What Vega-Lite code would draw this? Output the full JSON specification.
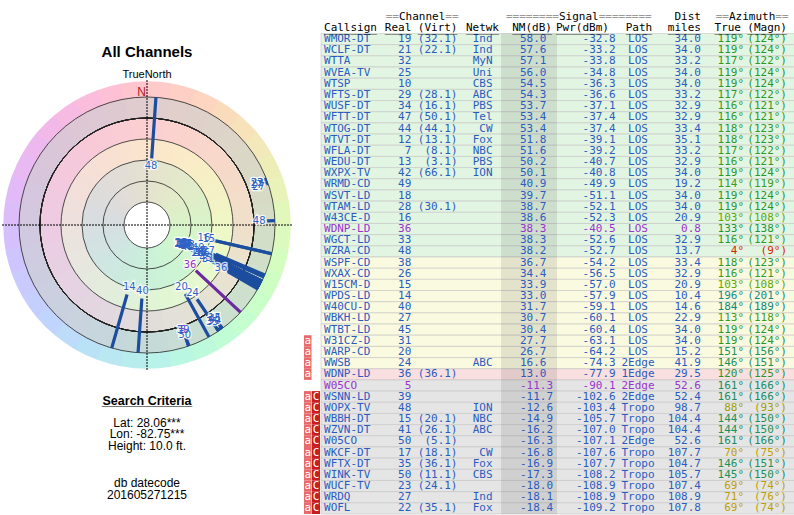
{
"$schema": "https://vega.github.io/schema/vega-lite/v6.json",
"padding": 0,
"background": "white",
"spacing": 10,
"config": {"view": {"stroke": null}, "locale": {"number": {"decimal": ".", "thousands": ",", "grouping": [3], "currency": ["$", ""], "minus": "-"}}},
"datasets": {
"stations": [
{"r":1,"call":"WMOR-DT","real":19,"virt":"(32.1)","net":"Ind","nm":58.0,"pwr":-32.8,"path":"LOS","dist":34.0,"az":119,"mag":124,"flag":"","grp":"std"},
{"r":2,"call":"WCLF-DT","real":21,"virt":"(22.1)","net":"Ind","nm":57.6,"pwr":-33.2,"path":"LOS","dist":34.0,"az":119,"mag":124,"flag":"","grp":"std"},
{"r":3,"call":"WTTA","real":32,"virt":"","net":"MyN","nm":57.1,"pwr":-33.8,"path":"LOS","dist":33.2,"az":117,"mag":122,"flag":"","grp":"std"},
{"r":4,"call":"WVEA-TV","real":25,"virt":"","net":"Uni","nm":56.0,"pwr":-34.8,"path":"LOS","dist":34.0,"az":119,"mag":124,"flag":"","grp":"std"},
{"r":5,"call":"WTSP","real":10,"virt":"","net":"CBS","nm":54.5,"pwr":-36.3,"path":"LOS","dist":34.0,"az":119,"mag":124,"flag":"","grp":"std"},
{"r":6,"call":"WFTS-DT","real":29,"virt":"(28.1)","net":"ABC","nm":54.3,"pwr":-36.6,"path":"LOS","dist":33.2,"az":117,"mag":122,"flag":"","grp":"std"},
{"r":7,"call":"WUSF-DT","real":34,"virt":"(16.1)","net":"PBS","nm":53.7,"pwr":-37.1,"path":"LOS","dist":32.9,"az":116,"mag":121,"flag":"","grp":"std"},
{"r":8,"call":"WFTT-DT","real":47,"virt":"(50.1)","net":"Tel","nm":53.4,"pwr":-37.4,"path":"LOS","dist":32.9,"az":116,"mag":121,"flag":"","grp":"std"},
{"r":9,"call":"WTOG-DT","real":44,"virt":"(44.1)","net":"CW","nm":53.4,"pwr":-37.4,"path":"LOS","dist":33.4,"az":118,"mag":123,"flag":"","grp":"std"},
{"r":10,"call":"WTVT-DT","real":12,"virt":"(13.1)","net":"Fox","nm":51.8,"pwr":-39.1,"path":"LOS","dist":35.1,"az":118,"mag":123,"flag":"","grp":"std"},
{"r":11,"call":"WFLA-DT","real":7,"virt":"(8.1)","net":"NBC","nm":51.6,"pwr":-39.2,"path":"LOS","dist":33.2,"az":117,"mag":122,"flag":"","grp":"std"},
{"r":12,"call":"WEDU-DT","real":13,"virt":"(3.1)","net":"PBS","nm":50.2,"pwr":-40.7,"path":"LOS","dist":32.9,"az":116,"mag":121,"flag":"","grp":"std"},
{"r":13,"call":"WXPX-TV","real":42,"virt":"(66.1)","net":"ION","nm":50.1,"pwr":-40.8,"path":"LOS","dist":34.0,"az":119,"mag":124,"flag":"","grp":"std"},
{"r":14,"call":"WRMD-CD","real":49,"virt":"","net":"","nm":40.9,"pwr":-49.9,"path":"LOS","dist":19.2,"az":114,"mag":119,"flag":"","grp":"std"},
{"r":15,"call":"WSVT-LD","real":18,"virt":"","net":"","nm":39.7,"pwr":-51.1,"path":"LOS","dist":34.0,"az":119,"mag":124,"flag":"","grp":"std"},
{"r":16,"call":"WTAM-LD","real":28,"virt":"(30.1)","net":"","nm":38.7,"pwr":-52.1,"path":"LOS","dist":34.0,"az":119,"mag":124,"flag":"","grp":"std"},
{"r":17,"call":"W43CE-D","real":16,"virt":"","net":"","nm":38.6,"pwr":-52.3,"path":"LOS","dist":20.9,"az":103,"mag":108,"flag":"","grp":"std"},
{"r":18,"call":"WDNP-LD","real":36,"virt":"","net":"","nm":38.3,"pwr":-40.5,"path":"LOS","dist":0.8,"az":133,"mag":138,"flag":"","grp":"alt"},
{"r":19,"call":"WGCT-LD","real":33,"virt":"","net":"","nm":38.3,"pwr":-52.6,"path":"LOS","dist":32.9,"az":116,"mag":121,"flag":"","grp":"std"},
{"r":20,"call":"WZRA-CD","real":48,"virt":"","net":"","nm":38.2,"pwr":-52.7,"path":"LOS","dist":13.7,"az":4,"mag":9,"flag":"","grp":"std"},
{"r":21,"call":"WSPF-CD","real":38,"virt":"","net":"","nm":36.7,"pwr":-54.2,"path":"LOS","dist":33.4,"az":118,"mag":123,"flag":"","grp":"std"},
{"r":22,"call":"WXAX-CD","real":26,"virt":"","net":"","nm":34.4,"pwr":-56.5,"path":"LOS","dist":32.9,"az":116,"mag":121,"flag":"","grp":"std"},
{"r":23,"call":"W15CM-D","real":15,"virt":"","net":"","nm":33.9,"pwr":-57.0,"path":"LOS","dist":20.9,"az":103,"mag":108,"flag":"","grp":"std"},
{"r":24,"call":"WPDS-LD","real":14,"virt":"","net":"","nm":33.0,"pwr":-57.9,"path":"LOS","dist":10.4,"az":196,"mag":201,"flag":"","grp":"std"},
{"r":25,"call":"W40CU-D","real":40,"virt":"","net":"","nm":31.7,"pwr":-59.1,"path":"LOS","dist":14.6,"az":184,"mag":189,"flag":"","grp":"std"},
{"r":26,"call":"WBKH-LD","real":27,"virt":"","net":"","nm":30.7,"pwr":-60.1,"path":"LOS","dist":22.9,"az":113,"mag":118,"flag":"","grp":"std"},
{"r":27,"call":"WTBT-LD","real":45,"virt":"","net":"","nm":30.4,"pwr":-60.4,"path":"LOS","dist":34.0,"az":119,"mag":124,"flag":"","grp":"std"},
{"r":28,"call":"W31CZ-D","real":31,"virt":"","net":"","nm":27.7,"pwr":-63.1,"path":"LOS","dist":34.0,"az":119,"mag":124,"flag":"a","grp":"std"},
{"r":29,"call":"WARP-CD","real":20,"virt":"","net":"","nm":26.7,"pwr":-64.2,"path":"LOS","dist":15.2,"az":151,"mag":156,"flag":"a","grp":"std"},
{"r":30,"call":"WWSB","real":24,"virt":"","net":"ABC","nm":16.6,"pwr":-74.3,"path":"2Edge","dist":41.9,"az":146,"mag":151,"flag":"a","grp":"std"},
{"r":31,"call":"WDNP-LD","real":36,"virt":"(36.1)","net":"","nm":13.0,"pwr":-77.9,"path":"1Edge","dist":29.5,"az":120,"mag":125,"flag":"a","grp":"std"},
{"r":32,"call":"W05CO","real":5,"virt":"","net":"","nm":-11.3,"pwr":-90.1,"path":"2Edge","dist":52.6,"az":161,"mag":166,"flag":"","grp":"alt"},
{"r":33,"call":"WSNN-LD","real":39,"virt":"","net":"","nm":-11.7,"pwr":-102.6,"path":"2Edge","dist":52.4,"az":161,"mag":166,"flag":"aC","grp":"std"},
{"r":34,"call":"WOPX-TV","real":48,"virt":"","net":"ION","nm":-12.6,"pwr":-103.4,"path":"Tropo","dist":98.7,"az":88,"mag":93,"flag":"aC","grp":"std"},
{"r":35,"call":"WBBH-DT","real":15,"virt":"(20.1)","net":"NBC","nm":-14.9,"pwr":-105.7,"path":"Tropo","dist":104.4,"az":144,"mag":150,"flag":"aC","grp":"std"},
{"r":36,"call":"WZVN-DT","real":41,"virt":"(26.1)","net":"ABC","nm":-16.2,"pwr":-107.0,"path":"Tropo","dist":104.4,"az":144,"mag":150,"flag":"aC","grp":"std"},
{"r":37,"call":"W05CO","real":50,"virt":"(5.1)","net":"","nm":-16.3,"pwr":-107.1,"path":"2Edge","dist":52.6,"az":161,"mag":166,"flag":"aC","grp":"std"},
{"r":38,"call":"WKCF-DT","real":17,"virt":"(18.1)","net":"CW","nm":-16.8,"pwr":-107.6,"path":"Tropo","dist":107.7,"az":70,"mag":75,"flag":"aC","grp":"std"},
{"r":39,"call":"WFTX-DT","real":35,"virt":"(36.1)","net":"Fox","nm":-16.9,"pwr":-107.7,"path":"Tropo","dist":104.7,"az":146,"mag":151,"flag":"aC","grp":"std"},
{"r":40,"call":"WINK-TV","real":50,"virt":"(11.1)","net":"CBS","nm":-17.3,"pwr":-108.2,"path":"Tropo","dist":105.7,"az":145,"mag":150,"flag":"aC","grp":"std"},
{"r":41,"call":"WUCF-TV","real":23,"virt":"(24.1)","net":"","nm":-18.0,"pwr":-108.9,"path":"Tropo","dist":107.4,"az":69,"mag":74,"flag":"aC","grp":"std"},
{"r":42,"call":"WRDQ","real":27,"virt":"","net":"Ind","nm":-18.1,"pwr":-108.9,"path":"Tropo","dist":108.9,"az":71,"mag":76,"flag":"aC","grp":"std"},
{"r":43,"call":"WOFL","real":22,"virt":"(35.1)","net":"Fox","nm":-18.4,"pwr":-109.2,"path":"Tropo","dist":107.8,"az":69,"mag":74,"flag":"aC","grp":"std"}
],
"bands": [{"lo":-20,"hi":0,"q":"poor"},{"lo":0,"hi":20,"q":"weak"},{"lo":20,"hi":40,"q":"fair"},{"lo":40,"hi":80,"q":"good"}],
"grid": [{"g":-20},{"g":0},{"g":20},{"g":40},{"g":60},{"g":80}],
"cross": [{"d":0},{"d":90},{"d":180},{"d":270}],
"hues": [
{"a":0,"a2":10,"lo":-20,"hi":80,"ring":"inner"},{"a":10,"a2":20,"lo":-20,"hi":80,"ring":"inner"},{"a":20,"a2":30,"lo":-20,"hi":80,"ring":"inner"},{"a":30,"a2":40,"lo":-20,"hi":80,"ring":"inner"},{"a":40,"a2":50,"lo":-20,"hi":80,"ring":"inner"},{"a":50,"a2":60,"lo":-20,"hi":80,"ring":"inner"},{"a":60,"a2":70,"lo":-20,"hi":80,"ring":"inner"},{"a":70,"a2":80,"lo":-20,"hi":80,"ring":"inner"},{"a":80,"a2":90,"lo":-20,"hi":80,"ring":"inner"},{"a":90,"a2":100,"lo":-20,"hi":80,"ring":"inner"},{"a":100,"a2":110,"lo":-20,"hi":80,"ring":"inner"},{"a":110,"a2":120,"lo":-20,"hi":80,"ring":"inner"},{"a":120,"a2":130,"lo":-20,"hi":80,"ring":"inner"},{"a":130,"a2":140,"lo":-20,"hi":80,"ring":"inner"},{"a":140,"a2":150,"lo":-20,"hi":80,"ring":"inner"},{"a":150,"a2":160,"lo":-20,"hi":80,"ring":"inner"},{"a":160,"a2":170,"lo":-20,"hi":80,"ring":"inner"},{"a":170,"a2":180,"lo":-20,"hi":80,"ring":"inner"},{"a":180,"a2":190,"lo":-20,"hi":80,"ring":"inner"},{"a":190,"a2":200,"lo":-20,"hi":80,"ring":"inner"},{"a":200,"a2":210,"lo":-20,"hi":80,"ring":"inner"},{"a":210,"a2":220,"lo":-20,"hi":80,"ring":"inner"},{"a":220,"a2":230,"lo":-20,"hi":80,"ring":"inner"},{"a":230,"a2":240,"lo":-20,"hi":80,"ring":"inner"},{"a":240,"a2":250,"lo":-20,"hi":80,"ring":"inner"},{"a":250,"a2":260,"lo":-20,"hi":80,"ring":"inner"},{"a":260,"a2":270,"lo":-20,"hi":80,"ring":"inner"},{"a":270,"a2":280,"lo":-20,"hi":80,"ring":"inner"},{"a":280,"a2":290,"lo":-20,"hi":80,"ring":"inner"},{"a":290,"a2":300,"lo":-20,"hi":80,"ring":"inner"},{"a":300,"a2":310,"lo":-20,"hi":80,"ring":"inner"},{"a":310,"a2":320,"lo":-20,"hi":80,"ring":"inner"},{"a":320,"a2":330,"lo":-20,"hi":80,"ring":"inner"},{"a":330,"a2":340,"lo":-20,"hi":80,"ring":"inner"},{"a":340,"a2":350,"lo":-20,"hi":80,"ring":"inner"},{"a":350,"a2":360,"lo":-20,"hi":80,"ring":"inner"},
{"a":0,"a2":10,"lo":-35,"hi":-20,"ring":"outer"},{"a":10,"a2":20,"lo":-35,"hi":-20,"ring":"outer"},{"a":20,"a2":30,"lo":-35,"hi":-20,"ring":"outer"},{"a":30,"a2":40,"lo":-35,"hi":-20,"ring":"outer"},{"a":40,"a2":50,"lo":-35,"hi":-20,"ring":"outer"},{"a":50,"a2":60,"lo":-35,"hi":-20,"ring":"outer"},{"a":60,"a2":70,"lo":-35,"hi":-20,"ring":"outer"},{"a":70,"a2":80,"lo":-35,"hi":-20,"ring":"outer"},{"a":80,"a2":90,"lo":-35,"hi":-20,"ring":"outer"},{"a":90,"a2":100,"lo":-35,"hi":-20,"ring":"outer"},{"a":100,"a2":110,"lo":-35,"hi":-20,"ring":"outer"},{"a":110,"a2":120,"lo":-35,"hi":-20,"ring":"outer"},{"a":120,"a2":130,"lo":-35,"hi":-20,"ring":"outer"},{"a":130,"a2":140,"lo":-35,"hi":-20,"ring":"outer"},{"a":140,"a2":150,"lo":-35,"hi":-20,"ring":"outer"},{"a":150,"a2":160,"lo":-35,"hi":-20,"ring":"outer"},{"a":160,"a2":170,"lo":-35,"hi":-20,"ring":"outer"},{"a":170,"a2":180,"lo":-35,"hi":-20,"ring":"outer"},{"a":180,"a2":190,"lo":-35,"hi":-20,"ring":"outer"},{"a":190,"a2":200,"lo":-35,"hi":-20,"ring":"outer"},{"a":200,"a2":210,"lo":-35,"hi":-20,"ring":"outer"},{"a":210,"a2":220,"lo":-35,"hi":-20,"ring":"outer"},{"a":220,"a2":230,"lo":-35,"hi":-20,"ring":"outer"},{"a":230,"a2":240,"lo":-35,"hi":-20,"ring":"outer"},{"a":240,"a2":250,"lo":-35,"hi":-20,"ring":"outer"},{"a":250,"a2":260,"lo":-35,"hi":-20,"ring":"outer"},{"a":260,"a2":270,"lo":-35,"hi":-20,"ring":"outer"},{"a":270,"a2":280,"lo":-35,"hi":-20,"ring":"outer"},{"a":280,"a2":290,"lo":-35,"hi":-20,"ring":"outer"},{"a":290,"a2":300,"lo":-35,"hi":-20,"ring":"outer"},{"a":300,"a2":310,"lo":-35,"hi":-20,"ring":"outer"},{"a":310,"a2":320,"lo":-35,"hi":-20,"ring":"outer"},{"a":320,"a2":330,"lo":-35,"hi":-20,"ring":"outer"},{"a":330,"a2":340,"lo":-35,"hi":-20,"ring":"outer"},{"a":340,"a2":350,"lo":-35,"hi":-20,"ring":"outer"},{"a":350,"a2":360,"lo":-35,"hi":-20,"ring":"outer"}
]
},
"resolve": {"scale": {"x": "independent", "y": "independent", "color": "independent", "fill": "independent", "theta": "independent", "radius": "independent", "opacity": "independent"}},
"hconcat": [
{
"spacing": 0,
"resolve": {"scale": {"x": "independent", "y": "independent", "color": "independent", "fill": "independent", "theta": "independent", "radius": "independent", "opacity": "independent"}},
"vconcat": [
{"width": 290, "height": 45, "data": {"values": [{"t": ""}]}, "mark": {"type": "text"}, "encoding": {"text": {"field": "t", "type": "nominal"}}},
{
"width": 290, "height": 286,
"title": {"text": "All Channels", "subtitle": "TrueNorth", "font": "Liberation Sans", "fontSize": 15, "fontWeight": "bold", "color": "#000", "subtitleFont": "Liberation Sans", "subtitleFontSize": 11, "subtitleColor": "#000", "subtitlePadding": 9, "offset": -2, "anchor": "middle"},
"resolve": {"scale": {"fill": "independent", "color": "independent"}},
"layer": [
{"data": {"name": "bands"}, "mark": {"type": "arc", "theta": 0, "theta2": 6.2832},
 "encoding": {
  "radius": {"field": "hi", "type": "quantitative", "stack": null, "scale": {"type": "linear", "domain": [-35, 80], "range": [143.75, 23], "nice": false, "zero": false}},
  "radius2": {"field": "lo"},
  "fill": {"field": "q", "type": "nominal", "scale": {"domain": ["good", "fair", "weak", "poor"], "range": ["#e2f5df", "#fbf9dc", "#fbe0e0", "#dddddd"]}, "legend": null}}},
{"data": {"name": "hues"}, "mark": {"type": "arc"},
 "encoding": {"theta": {"field": "a", "type": "quantitative", "stack": null, "scale": {"domain": [0, 360], "nice": false, "zero": false}}, "theta2": {"field": "a2"},
  "radius": {"field": "hi", "type": "quantitative", "stack": null}, "radius2": {"field": "lo"},
  "opacity": {"field": "ring", "type": "nominal", "scale": {"domain": ["inner", "outer"], "range": [0.1, 0.28]}, "legend": null},
  "fill": {"field": "a", "type": "quantitative", "scale": {"scheme": "sinebow", "domain": [0, 360]}, "legend": null}}},
{"data": {"name": "grid"}, "mark": {"type": "arc", "filled": false, "color": "#222222", "strokeWidth": 0.8, "theta": 0, "theta2": 6.2832},
 "encoding": {"radius": {"field": "g", "type": "quantitative", "stack": null}}},
{"data": {"name": "cross"}, "mark": {"type": "arc", "filled": false, "color": "#000000", "strokeWidth": 1, "strokeDash": [1, 2], "radius": 145},
 "encoding": {"theta": {"field": "d", "type": "quantitative", "stack": null}, "theta2": {"field": "d"}}},
{"data": {"name": "stations"}, "mark": {"type": "arc", "filled": false, "strokeWidth": 3.2, "radius2": 128},
 "encoding": {"theta": {"field": "az", "type": "quantitative", "stack": null}, "theta2": {"field": "az"},
  "radius": {"field": "nm", "type": "quantitative", "stack": null},
  "color": {"field": "grp", "type": "nominal", "scale": {"domain": ["std", "alt"], "range": ["#1d4d9e", "#6c2aa0"]}, "legend": null}}},
{"data": {"name": "stations"}, "mark": {"type": "text", "radiusOffset": -8, "font": "DejaVu Sans", "fontSize": 10, "fill": "white", "stroke": "white", "strokeWidth": 2.5, "strokeOpacity": 0.8},
 "encoding": {"theta": {"field": "az", "type": "quantitative", "stack": null}, "radius": {"field": "nm", "type": "quantitative", "stack": null}, "text": {"field": "real", "type": "nominal"}}},
{"data": {"name": "stations"}, "mark": {"type": "text", "radiusOffset": -8, "font": "DejaVu Sans", "fontSize": 10},
 "encoding": {"theta": {"field": "az", "type": "quantitative", "stack": null}, "radius": {"field": "nm", "type": "quantitative", "stack": null}, "text": {"field": "real", "type": "nominal"},
  "color": {"field": "grp", "type": "nominal", "scale": {"domain": ["std", "alt"], "range": ["#2f62c4", "#9a30c8"]}, "legend": null}}},
{"data": {"values": [{"t": "N"}]}, "mark": {"type": "text", "font": "Liberation Sans", "fontSize": 12, "color": "#b02020", "theta": 0, "radius": 133, "align": "right", "dx": -1},
 "encoding": {"text": {"field": "t", "type": "nominal"}}}
]
},
{
"width": 290, "height": 140,
"layer": [
{"data": {"values": [{"t": "Search Criteria", "line": 0}]}, "mark": {"type": "text", "font": "Liberation Sans", "fontSize": 12.5, "fontWeight": "bold", "baseline": "alphabetic", "color": "#000"},
 "encoding": {"y": {"field": "line", "type": "quantitative", "scale": {"domain": [-2.85, 9.35], "reverse": true, "nice": false, "zero": false}, "axis": null}, "text": {"field": "t", "type": "nominal"}}},
{"data": {"values": [{"t": "_____________", "line": 0}]}, "mark": {"type": "text", "font": "Liberation Sans", "fontSize": 12.5, "fontWeight": "bold", "baseline": "alphabetic", "color": "#000"},
 "encoding": {"y": {"field": "line", "type": "quantitative", "axis": null}, "text": {"field": "t", "type": "nominal"}}},
{"data": {"values": [{"t": ["Lat: 28.06***", "Lon: -82.75***", "Height: 10.0 ft."], "line": 1.9}, {"t": ["db datecode", "201605271215"], "line": 7.2}]},
 "mark": {"type": "text", "font": "Liberation Sans", "fontSize": 12, "baseline": "alphabetic", "lineHeight": 11.6, "color": "#000"},
 "encoding": {"y": {"field": "line", "type": "quantitative", "axis": null}, "text": {"field": "t", "type": "nominal"}}}
]
}
]
},
{
"width": 494, "height": 514,
"data": {"name": "stations"},
"resolve": {"scale": {"color": "independent", "fill": "independent"}},
"encoding": {"y": {"field": "r", "type": "ordinal", "scale": {"domain": [-2,-1,0,1,2,3,4,5,6,7,8,9,10,11,12,13,14,15,16,17,18,19,20,21,22,23,24,25,26,27,28,29,30,31,32,33,34,35,36,37,38,39,40,41,42,43], "paddingInner": 0, "paddingOuter": 0}, "axis": null}},
"layer": [
{"mark": {"type": "rect", "stroke": "#c4c4c4", "strokeWidth": 0.6, "width": 477},
 "encoding": {"x": {"datum": 41.38, "type": "quantitative", "scale": {"domain": [0, 80], "nice": false, "zero": false, "padding": 0}, "axis": null},
  "fill": {"field": "nm", "type": "quantitative", "scale": {"type": "threshold", "domain": [0, 15, 37.5], "range": ["#e5e5e5", "#f9dfdf", "#fafae0", "#e2f5e2"]}, "legend": null}}},
{"mark": {"type": "rect", "color": "#000", "opacity": 0.09, "width": 56},
 "encoding": {"x": {"datum": 36.44, "type": "quantitative"}}},
{"transform": [{"filter": "datum.flag != ''"}], "mark": {"type": "rect", "color": "#e86a6a", "width": 7.5},
 "encoding": {"x": {"datum": 0.61, "type": "quantitative"}}},
{"transform": [{"filter": "datum.flag == 'aC'"}], "mark": {"type": "rect", "color": "#c81e1e", "width": 8},
 "encoding": {"x": {"datum": 1.94, "type": "quantitative"}}},
{"transform": [{"filter": "datum.flag != ''"}], "mark": {"type": "text", "text": "a", "font": "DejaVu Sans Mono", "fontSize": 11, "color": "white"},
 "encoding": {"x": {"datum": 0.61, "type": "quantitative"}}},
{"transform": [{"filter": "datum.flag == 'aC'"}], "mark": {"type": "text", "text": "C", "font": "DejaVu Sans Mono", "fontSize": 11, "color": "white"},
 "encoding": {"x": {"datum": 1.94, "type": "quantitative"}}},
{"mark": {"type": "text", "align": "left", "font": "DejaVu Sans Mono", "fontSize": 11},
 "encoding": {"x": {"datum": 3.24, "type": "quantitative"}, "text": {"field": "call", "type": "nominal"},
  "color": {"field": "grp", "type": "nominal", "scale": {"domain": ["std", "alt"], "range": ["#2a5cbf", "#9933cc"]}, "legend": null}}},
{"mark": {"type": "text", "align": "right", "font": "DejaVu Sans Mono", "fontSize": 11},
 "encoding": {"x": {"datum": 17.38, "type": "quantitative"}, "text": {"field": "real", "type": "nominal"},
  "color": {"field": "grp", "type": "nominal", "scale": {"domain": ["std", "alt"], "range": ["#2a5cbf", "#9933cc"]}, "legend": null}}},
{"mark": {"type": "text", "align": "right", "font": "DejaVu Sans Mono", "fontSize": 11},
 "encoding": {"x": {"datum": 24.86, "type": "quantitative"}, "text": {"field": "virt", "type": "nominal"},
  "color": {"field": "grp", "type": "nominal", "scale": {"domain": ["std", "alt"], "range": ["#2a5cbf", "#9933cc"]}, "legend": null}}},
{"mark": {"type": "text", "align": "right", "font": "DejaVu Sans Mono", "fontSize": 11},
 "encoding": {"x": {"datum": 30.53, "type": "quantitative"}, "text": {"field": "net", "type": "nominal"},
  "color": {"field": "grp", "type": "nominal", "scale": {"domain": ["std", "alt"], "range": ["#2a5cbf", "#9933cc"]}, "legend": null}}},
{"mark": {"type": "text", "align": "left", "font": "DejaVu Sans Mono", "fontSize": 11},
 "encoding": {"x": {"datum": 34.98, "type": "quantitative"}, "text": {"field": "nm", "type": "quantitative", "format": ".1f"},
  "color": {"field": "grp", "type": "nominal", "scale": {"domain": ["std", "alt"], "range": ["#2a5cbf", "#9933cc"]}, "legend": null}}},
{"mark": {"type": "text", "align": "right", "font": "DejaVu Sans Mono", "fontSize": 11},
 "encoding": {"x": {"datum": 50.48, "type": "quantitative"}, "text": {"field": "pwr", "type": "quantitative", "format": ".1f"},
  "color": {"field": "grp", "type": "nominal", "scale": {"domain": ["std", "alt"], "range": ["#2a5cbf", "#9933cc"]}, "legend": null}}},
{"mark": {"type": "text", "align": "center", "font": "DejaVu Sans Mono", "fontSize": 11},
 "encoding": {"x": {"datum": 54.09, "type": "quantitative"}, "text": {"field": "path", "type": "nominal"},
  "color": {"field": "grp", "type": "nominal", "scale": {"domain": ["std", "alt"], "range": ["#2a5cbf", "#9933cc"]}, "legend": null}}},
{"mark": {"type": "text", "align": "right", "font": "DejaVu Sans Mono", "fontSize": 11},
 "encoding": {"x": {"datum": 64.29, "type": "quantitative"}, "text": {"field": "dist", "type": "quantitative", "format": ".1f"},
  "color": {"field": "grp", "type": "nominal", "scale": {"domain": ["std", "alt"], "range": ["#2a5cbf", "#9933cc"]}, "legend": null}}},
{"mark": {"type": "text", "align": "right", "font": "DejaVu Sans Mono", "fontSize": 11, "text": {"expr": "datum.az + '°'"}},
 "encoding": {"x": {"datum": 71.26, "type": "quantitative"},
  "color": {"field": "az", "type": "quantitative", "scale": {"type": "linear", "domain": [0, 70, 88, 103, 119, 150, 165, 200], "range": ["#d40000", "#c0a000", "#a0a000", "#5ea800", "#2a962a", "#20905a", "#178a6a", "#188a88"]}, "legend": null}}},
{"mark": {"type": "text", "align": "right", "font": "DejaVu Sans Mono", "fontSize": 11, "text": {"expr": "'(' + datum.mag + '°)'"}},
 "encoding": {"x": {"datum": 78.22, "type": "quantitative"},
  "color": {"field": "az", "type": "quantitative", "scale": {"type": "linear", "domain": [0, 70, 88, 103, 119, 150, 165, 200], "range": ["#d40000", "#c0a000", "#a0a000", "#5ea800", "#2a962a", "#20905a", "#178a6a", "#188a88"]}, "legend": null}}},
{"data": {"values": [{"t": "==", "r": -1}]}, "mark": {"type": "text", "align": "left", "font": "DejaVu Sans Mono", "fontSize": 11, "color": "#999999"},
 "encoding": {"x": {"datum": 13.23, "type": "quantitative"}, "text": {"field": "t", "type": "nominal"}}},
{"data": {"values": [{"t": "Channel", "r": -1}]}, "mark": {"type": "text", "align": "left", "font": "DejaVu Sans Mono", "fontSize": 11, "color": "#000000"},
 "encoding": {"x": {"datum": 15.37, "type": "quantitative"}, "text": {"field": "t", "type": "nominal"}}},
{"data": {"values": [{"t": "==", "r": -1}]}, "mark": {"type": "text", "align": "left", "font": "DejaVu Sans Mono", "fontSize": 11, "color": "#999999"},
 "encoding": {"x": {"datum": 22.88, "type": "quantitative"}, "text": {"field": "t", "type": "nominal"}}},
{"data": {"values": [{"t": "========", "r": -1}]}, "mark": {"type": "text", "align": "left", "font": "DejaVu Sans Mono", "fontSize": 11, "color": "#999999"},
 "encoding": {"x": {"datum": 32.71, "type": "quantitative"}, "text": {"field": "t", "type": "nominal"}}},
{"data": {"values": [{"t": "Signal", "r": -1}]}, "mark": {"type": "text", "align": "left", "font": "DejaVu Sans Mono", "fontSize": 11, "color": "#000000"},
 "encoding": {"x": {"datum": 41.29, "type": "quantitative"}, "text": {"field": "t", "type": "nominal"}}},
{"data": {"values": [{"t": "========", "r": -1}]}, "mark": {"type": "text", "align": "left", "font": "DejaVu Sans Mono", "fontSize": 11, "color": "#999999"},
 "encoding": {"x": {"datum": 47.72, "type": "quantitative"}, "text": {"field": "t", "type": "nominal"}}},
{"data": {"values": [{"t": "Dist", "r": -1}]}, "mark": {"type": "text", "align": "right", "font": "DejaVu Sans Mono", "fontSize": 11, "color": "#000000"},
 "encoding": {"x": {"datum": 64.29, "type": "quantitative"}, "text": {"field": "t", "type": "nominal"}}},
{"data": {"values": [{"t": "==", "r": -1}]}, "mark": {"type": "text", "align": "left", "font": "DejaVu Sans Mono", "fontSize": 11, "color": "#999999"},
 "encoding": {"x": {"datum": 66.67, "type": "quantitative"}, "text": {"field": "t", "type": "nominal"}}},
{"data": {"values": [{"t": "Azimuth", "r": -1}]}, "mark": {"type": "text", "align": "left", "font": "DejaVu Sans Mono", "fontSize": 11, "color": "#000000"},
 "encoding": {"x": {"datum": 68.81, "type": "quantitative"}, "text": {"field": "t", "type": "nominal"}}},
{"data": {"values": [{"t": "==", "r": -1}]}, "mark": {"type": "text", "align": "left", "font": "DejaVu Sans Mono", "fontSize": 11, "color": "#999999"},
 "encoding": {"x": {"datum": 76.32, "type": "quantitative"}, "text": {"field": "t", "type": "nominal"}}},
{"data": {"values": [{"t": ["Callsign", "________"], "r": 0}]}, "mark": {"type": "text", "align": "left", "font": "DejaVu Sans Mono", "fontSize": 11, "lineHeight": 1, "color": "#000000"},
 "encoding": {"x": {"datum": 3.24, "type": "quantitative"}, "text": {"field": "t", "type": "nominal"}}},
{"data": {"values": [{"t": ["Real", "____"], "r": 0}]}, "mark": {"type": "text", "align": "right", "font": "DejaVu Sans Mono", "fontSize": 11, "lineHeight": 1, "color": "#000000"},
 "encoding": {"x": {"datum": 17.38, "type": "quantitative"}, "text": {"field": "t", "type": "nominal"}}},
{"data": {"values": [{"t": ["(Virt)", "______"], "r": 0}]}, "mark": {"type": "text", "align": "right", "font": "DejaVu Sans Mono", "fontSize": 11, "lineHeight": 1, "color": "#000000"},
 "encoding": {"x": {"datum": 24.86, "type": "quantitative"}, "text": {"field": "t", "type": "nominal"}}},
{"data": {"values": [{"t": ["Netwk", "_____"], "r": 0}]}, "mark": {"type": "text", "align": "right", "font": "DejaVu Sans Mono", "fontSize": 11, "lineHeight": 1, "color": "#000000"},
 "encoding": {"x": {"datum": 31.58, "type": "quantitative"}, "text": {"field": "t", "type": "nominal"}}},
{"data": {"values": [{"t": ["NM(dB)", "______"], "r": 0}]}, "mark": {"type": "text", "align": "right", "font": "DejaVu Sans Mono", "fontSize": 11, "lineHeight": 1, "color": "#000000"},
 "encoding": {"x": {"datum": 40.16, "type": "quantitative"}, "text": {"field": "t", "type": "nominal"}}},
{"data": {"values": [{"t": ["Pwr(dBm)", "________"], "r": 0}]}, "mark": {"type": "text", "align": "right", "font": "DejaVu Sans Mono", "fontSize": 11, "lineHeight": 1, "color": "#000000"},
 "encoding": {"x": {"datum": 49.39, "type": "quantitative"}, "text": {"field": "t", "type": "nominal"}}},
{"data": {"values": [{"t": ["Path", "____"], "r": 0}]}, "mark": {"type": "text", "align": "center", "font": "DejaVu Sans Mono", "fontSize": 11, "lineHeight": 1, "color": "#000000"},
 "encoding": {"x": {"datum": 54.25, "type": "quantitative"}, "text": {"field": "t", "type": "nominal"}}},
{"data": {"values": [{"t": ["miles", "_____"], "r": 0}]}, "mark": {"type": "text", "align": "right", "font": "DejaVu Sans Mono", "fontSize": 11, "lineHeight": 1, "color": "#000000"},
 "encoding": {"x": {"datum": 64.29, "type": "quantitative"}, "text": {"field": "t", "type": "nominal"}}},
{"data": {"values": [{"t": ["True", "____"], "r": 0}]}, "mark": {"type": "text", "align": "right", "font": "DejaVu Sans Mono", "fontSize": 11, "lineHeight": 1, "color": "#000000"},
 "encoding": {"x": {"datum": 70.77, "type": "quantitative"}, "text": {"field": "t", "type": "nominal"}}},
{"data": {"values": [{"t": ["(Magn)", "______"], "r": 0}]}, "mark": {"type": "text", "align": "right", "font": "DejaVu Sans Mono", "fontSize": 11, "lineHeight": 1, "color": "#000000"},
 "encoding": {"x": {"datum": 78.22, "type": "quantitative"}, "text": {"field": "t", "type": "nominal"}}}
]
}
]
}
